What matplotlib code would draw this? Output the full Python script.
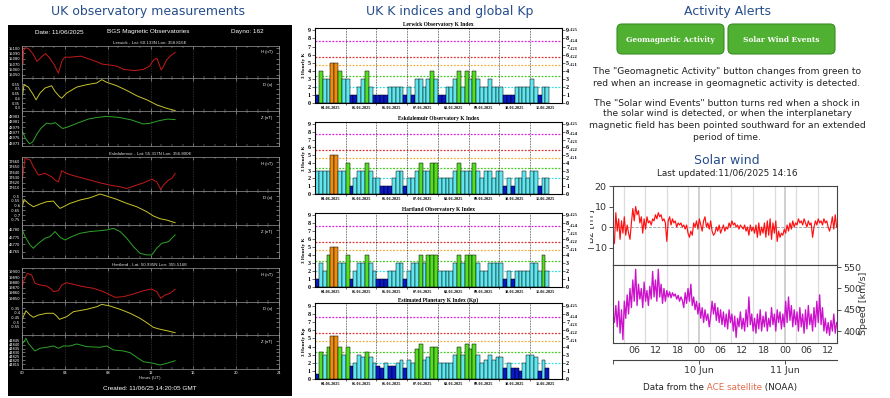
#!/usr/bin/env python3
"""Space weather dashboard: UK magnetometers, K indices, solar wind."""
import numpy as np
import matplotlib
matplotlib.use('Agg')
import matplotlib.pyplot as plt
from matplotlib.patches import Rectangle, FancyBboxPatch
from matplotlib.transforms import Bbox, TransformedBbox

W, H = 890, 398

# ---------------- magnetometer traces (hours UT, value) ----------------
LER_H_T = [0.0, 0.05, 0.1, 0.15, 0.3, 0.6, 1.0, 1.4, 1.85, 2.2, 2.6, 3.0, 3.4, 3.5, 3.75, 4.0, 4.5,
           5.0, 5.5, 6.2, 6.9, 7.5, 8.3, 8.9, 9.5, 10.5, 11.3, 11.9, 12.3, 12.6, 13.0, 13.2, 13.5, 13.9, 14.3]
LER_H = [15085, 15100, 15070, 15095, 15101, 15099, 15090, 15075, 15084, 15090, 15081, 15069, 15053, 15060,
         15077, 15083, 15083, 15084, 15085, 15080, 15075, 15070, 15068, 15066, 15060, 15058, 15060, 15066,
         15078, 15081, 15059, 15065, 15078, 15086, 15092]
LER_D_T = [0.06, 0.19, 0.59, 1.06, 1.31, 1.68, 2.15, 2.77, 3.08, 3.49, 3.71, 4.17, 5.11, 6.04, 6.98, 7.45,
           7.91, 8.85, 9.78, 10.72, 11.65, 12.58, 13.52, 14.3]
LER_D = [0.437, 0.543, 0.518, 0.437, 0.385, 0.455, 0.508, 0.532, 0.473, 0.42, 0.402, 0.455, 0.518, 0.543,
         0.561, 0.596, 0.568, 0.532, 0.483, 0.427, 0.385, 0.332, 0.296, 0.272]
LER_Z_T = [0.0, 0.3, 0.7, 1.0, 1.4, 1.8, 2.3, 2.7, 3.1, 3.5, 3.8, 4.3, 5.3, 6.2, 7.0, 7.9, 9.1, 10.2, 11.3,
           11.9, 12.9, 13.6, 14.3]
LER_Z = [48977.9, 48975.0, 48972.8, 48973.5, 48976.5, 48978.7, 48980.5, 48980.2, 48980.7, 48979.4, 48978.5,
         48979.1, 48980.7, 48982.0, 48982.6, 48983.0, 48982.6, 48981.7, 48980.2, 48980.4, 48981.5, 48982.0,
         48981.8]

ESK_H_T = [0.03, 0.28, 0.75, 1.06, 1.53, 2.15, 2.77, 3.08, 3.40, 3.71, 4.17, 4.64, 5.42, 6.36, 7.29, 8.22,
           9.16, 9.78, 10.41, 11.34, 12.12, 12.58, 12.96, 13.21, 13.67, 13.99, 14.30]
ESK_H = [17624.8, 17666.5, 17663.3, 17650.4, 17634.4, 17637.7, 17631.2, 17624.8, 17621.6, 17642.7, 17637.7,
         17634.4, 17630.0, 17624.8, 17619.6, 17615.2, 17612.0, 17608.8, 17613.3, 17619.6, 17626.7, 17621.6,
         17606.9, 17615.2, 17624.8, 17628.0, 17637.7]
ESK_D_T = [0.03, 0.19, 0.59, 1.06, 1.68, 2.31, 2.93, 3.24, 3.55, 3.86, 4.49, 5.42, 6.36, 7.29, 7.91, 8.85,
           9.78, 10.72, 11.65, 12.27, 12.90, 13.52, 14.30]
ESK_D = [-0.613, -0.535, -0.577, -0.613, -0.584, -0.56, -0.553, -0.595, -0.63, -0.613, -0.577, -0.542,
         -0.518, -0.479, -0.5, -0.535, -0.577, -0.613, -0.665, -0.71, -0.739, -0.753, -0.781]
ESK_Z_T = [0.03, 0.28, 0.75, 1.06, 1.53, 2.15, 2.62, 3.08, 3.55, 4.02, 4.64, 5.42, 6.36, 7.29, 7.91, 8.54,
           9.16, 9.78, 10.41, 11.03, 11.65, 12.12, 12.58, 13.05, 13.67, 14.30]
ESK_Z = [46780, 46775.4, 46769.7, 46767.4, 46770.8, 46774.3, 46775.4, 46778.9, 46775, 46773.1, 46775.4,
         46777.7, 46778.9, 46779.5, 46780, 46781.1, 46778.9, 46774.3, 46768.5, 46763.9, 46762.8, 46762.8,
         46767.4, 46770.8, 46771.9, 46776.6]

HAR_H_T = [0.0, 0.19, 0.50, 0.90, 1.21, 1.68, 2.31, 2.77, 2.93, 3.40, 3.71, 4.17, 4.80, 5.73, 6.67, 7.60,
           8.69, 9.47, 10.41, 11.34, 12.12, 12.58, 12.96, 13.36, 13.83, 14.30]
HAR_H = [19868.7, 19884.3, 19897.0, 19893.8, 19878.1, 19874.9, 19873.0, 19866.8, 19862.3, 19864.2, 19874.9,
         19879.2, 19876.2, 19871.7, 19868.7, 19862.3, 19851.7, 19852.8, 19857.9, 19864.2, 19867.4, 19862.3,
         19849.8, 19856.0, 19859.2, 19866.8]
HAR_D_T = [0.0, 0.19, 0.37, 0.75, 1.06, 1.53, 2.31, 2.93, 3.24, 3.49, 4.17, 4.80, 6.04, 6.98, 7.45, 8.22,
           9.16, 10.09, 11.03, 11.65, 12.27, 12.90, 13.52, 14.30]
HAR_D = [-0.477, -0.423, -0.376, -0.423, -0.448, -0.423, -0.404, -0.404, -0.434, -0.47, -0.441, -0.387,
         -0.361, -0.333, -0.307, -0.325, -0.361, -0.404, -0.459, -0.506, -0.557, -0.578, -0.593, -0.615]
HAR_Z_T = [0.0, 0.19, 0.37, 0.59, 0.90, 1.21, 1.68, 2.31, 2.93, 3.40, 3.86, 4.49, 5.11, 6.04, 7.29, 7.91,
           8.54, 9.47, 10.09, 10.72, 11.34, 12.27, 12.90, 13.52, 14.30]
HAR_Z = [44841.1, 44844.1, 44848.5, 44842.0, 44836.8, 44832.0, 44835.5, 44836.8, 44838.5, 44835.5, 44838.5,
         44838.5, 44841.1, 44837.6, 44836.8, 44838.5, 44833.3, 44832.0, 44829.8, 44823.7, 44818.0, 44815.9,
         44813.7, 44815.9, 44819.3]

# ---------------- 3-hourly K indices, 04-06-2025 .. 11-06-2025 ----------------
DATES = ['04-06-2025', '05-06-2025', '06-06-2025', '07-06-2025',
         '08-06-2025', '09-06-2025', '10-06-2025', '11-06-2025']
LER_K = [1, 4, 3, 3, 5, 5, 4, 3,  3, 1, 1, 2, 3, 4, 2, 1,  1, 1, 1, 2, 2, 2, 2, 1,  2, 1, 3, 3, 2, 3, 4, 3,
         1, 1, 2, 2, 3, 4, 2, 4,  3, 4, 3, 2, 2, 3, 2, 2,  2, 1, 1, 1, 2, 2, 2, 2,  3, 2, 1, 2, 2]
ESK_K = [3, 3, 3, 3, 5, 5, 3, 3,  4, 1, 2, 3, 3, 4, 3, 2,  2, 1, 1, 1, 2, 3, 3, 1,  2, 2, 3, 4, 3, 3, 4, 4,
         2, 2, 2, 2, 3, 4, 3, 3,  3, 4, 3, 2, 3, 3, 2, 3,  3, 1, 2, 1, 2, 2, 3, 2,  3, 3, 1, 2, 2]
HAR_K = [1, 3, 2, 4, 5, 5, 3, 3,  4, 1, 2, 3, 3, 4, 3, 2,  1, 1, 1, 2, 2, 3, 3, 1,  2, 3, 3, 4, 3, 4, 4, 4,
         2, 2, 2, 2, 3, 4, 3, 4,  4, 4, 3, 2, 2, 3, 3, 3,  3, 1, 2, 1, 2, 2, 2, 2,  3, 3, 2, 4, 2]
KP = [0.67, 3.33, 3, 4, 5.33, 5.33, 4, 3,  4, 1.67, 2, 3, 2.67, 3.33, 2.67, 2,
      1.67, 1.33, 2, 1.67, 1.67, 2, 2.33, 1.33,  2.33, 2, 3.67, 4.33, 2.33, 2.67, 4, 4,
      2, 2, 2, 2, 3, 4, 3, 4.33,  3.67, 4.33, 3, 2, 2.33, 3, 2.33, 2.67,
      2.67, 1.33, 2, 1.33, 1.33, 1, 2, 3,  3, 2.67, 1, 2.33, 1.33]
K_LEVELS = [2.0, 3.33, 4.67, 5.67, 7.67]
G_LEVELS = [4.67, 5.67, 6.67, 7.67, 9.0]
G_NAMES = ['G1', 'G2', 'G3', 'G4', 'G5']

# ---------------- ACE solar wind, hours from 09 Jun 00 UT ----------------
SW_END = 62.3
BZ = [-5, -8, 7, -2, 4, -6, 3, -3, 5, -4,
      1, -3, -6, 2, 9, 3, 10, 6, 8, 2,
      5, -3, 4, -1, 5, 2, 3, 1, 4, 3,
      6, 4, 7, 5, 6, 3, 4, 2, -7, 3,
      5, 1, 4, 2, 3, 0, 2, 1, 2, 0,
      1, -1, 1, -3, -5, -2, -4, 2, 0, 3,
      -1, 4, 1, -2, 3, 5, 0, 2, -1, 3,
      -2, -4, -3, 0, -2, 1, -3, -1, 1, -2,
      0, -1, 2, 0, 3, 1, 2, 0, 1, -1,
      1, 0, -1, 1, -2, 0, -4, 1, -2, 0,
      -3, 1, -5, 2, -4, 0, -3, 2, -5, 3,
      -4, 4, -6, 2, -3, 3, -7, -2, -5, -3,
      -4, -1, -3, 1, -2, 2, -1, 3, 0, 2,
      1, 4, 2, 3, 1, 4, 2, 0, 3, 1,
      2, -5, 0, 3, 1, 4, 2, 3, 1, 4,
      2, 3, 0, -2, 1, 5, -1, 6, 0]
SPEED = [440, 420, 460, 410, 470, 395, 450, 380, 470, 430,
         485, 440, 500, 455, 520, 470, 545, 460, 510, 475,
         500, 455, 515, 470, 495, 460, 505, 475, 540, 480,
         520, 470, 545, 480, 510, 465, 500, 470, 495, 480,
         492, 478, 490, 482, 487, 475, 484, 470, 480, 472,
         455, 490, 465, 500, 470, 510, 460, 480, 450, 470,
         440, 465, 430, 455, 420, 450, 425, 440, 410, 435,
         470, 440, 465, 425, 455, 420, 450, 415, 445, 410,
         440, 405, 450, 420, 440, 400, 435, 385, 430, 410,
         445, 405, 430, 400, 450, 410, 480, 415, 440, 400,
         430, 395, 440, 405, 450, 400, 435, 410, 445, 400,
         430, 410, 455, 415, 440, 400, 450, 420, 445, 405,
         440, 410, 470, 420, 480, 425, 460, 410, 450, 415,
         445, 400, 455, 410, 440, 395, 450, 405, 460, 415,
         440, 400, 455, 410, 470, 420, 485, 415, 455, 400,
         430, 395, 420, 390, 425, 400, 440, 395, 420]
SW_TICKS = [6, 12, 18, 24, 30, 36, 42, 48, 54, 60]
SW_TICKLABELS = ['06', '12', '18', '00', '06', '12', '18', '00', '06', '12']
SW_GRID = [3, 9, 15, 21, 27, 33, 39, 45, 51, 57]

TITLE_C = '#264d8c'
fig = plt.figure(figsize=(W / 100, H / 100), dpi=100)
fig.patch.set_facecolor('white')

def px_rect(x0, y0, x1, y1):
    return [x0 / W, 1 - y1 / H, (x1 - x0) / W, (y1 - y0) / H]

# pixel-space overlay for texts / boxes
bg = fig.add_axes([0, 0, 1, 1], zorder=-1)
bg.set_xlim(0, W); bg.set_ylim(H, 0); bg.axis('off')

# ================= panel 1: magnetometers =================
bg.text(148, 12, 'UK observatory measurements', ha='center', va='center', fontsize=9, color=TITLE_C)
bg.add_patch(Rectangle((8, 25), 284, 371, fc='black', ec='none'))
SANS = 'Liberation Sans'
bg.text(59, 32, 'Date: 11/06/2025', ha='center', va='center', fontsize=4.6, color='white', family=SANS)
bg.text(148, 32, 'BGS Magnetic Observatories', ha='center', va='center', fontsize=4.6, color='white', family=SANS)
bg.text(247, 32, 'Dayno: 162', ha='center', va='center', fontsize=4.6, color='white', family=SANS)
bg.text(150, 378, 'Hours (UT)', ha='center', va='center', fontsize=3.2, color='#dddddd', family=SANS)
bg.text(150, 388, 'Created: 11/06/25 14:20:05 GMT', ha='center', va='center', fontsize=4.6,
        color='white', family=SANS)

MAG_COL = ['#c41a1a', '#c9c42a', '#2ea42a']
MAG_LAB = ['H (nT)', 'D (o)', 'Z (nT)']
observatories = [
    ('Lerwick - Lat: 60.133N Lon: 358.816E', 43, [46, 78, 111, 146],
     [(LER_H_T, LER_H), (LER_D_T, LER_D), (LER_Z_T, LER_Z)],
     [(15044, 15104), (0.268, 0.613), (48972, 48985)],
     [np.arange(15050, 15101, 10), np.arange(0.3, 0.56, 0.05), np.arange(48973, 48985, 2)]),
    ('Eskdalemuir - Lat: 55.317N Lon: 356.800E', 154, [157, 191, 225, 258],
     [(ESK_H_T, ESK_H), (ESK_D_T, ESK_D), (ESK_Z_T, ESK_Z)],
     [(17604, 17669), (-0.805, -0.447), (46760.7, 46783.4)],
     [np.arange(17610, 17661, 10), np.arange(-0.75, -0.49, 0.05), np.arange(46765, 46781, 5)]),
    ('Hartland - Lat: 50.995N Lon: 355.516E', 265, [268, 302, 335, 369],
     [(HAR_H_T, HAR_H), (HAR_D_T, HAR_D), (HAR_Z_T, HAR_Z)],
     [(19842.8, 19907), (-0.64, -0.2815), (44808.5, 44852.8)],
     [np.arange(19850, 19901, 10), np.arange(-0.55, -0.34, 0.05), np.arange(44815, 44846, 5)]),
]
for oi, (name, ty, edges, traces, ylims, yticks) in enumerate(observatories):
    bg.text(150, ty, name, ha='center', va='center', fontsize=3.2, color='#dddddd', family=SANS)
    for k in range(3):
        ax = fig.add_axes(px_rect(22, edges[k], 279, edges[k + 1]))
        ax.set_facecolor('black')
        t, v = traces[k]
        ax.plot(t, v, color=MAG_COL[k], lw=0.7)
        ax.set_xlim(0, 24)
        ax.set_ylim(*ylims[k])
        ax.set_xticks(range(0, 25, 4))
        ax.set_xticks(range(0, 25), minor=True)
        ax.set_yticks(yticks[k])
        ax.set_yticklabels(['%g' % round(y, 2) for y in yticks[k]])
        ax.tick_params(which='both', direction='in', colors='#bbbbbb', labelcolor='white',
                       labelsize=2.6, top=True, right=True, pad=1.2)
        ax.tick_params(which='major', length=2.5, width=0.4)
        ax.tick_params(which='minor', length=1.2, width=0.3)
        ax.grid(axis='x', color='#777777', ls=(0, (1, 2)), lw=0.4)
        for s in ax.spines.values():
            s.set_color('#999999'); s.set_linewidth(0.5)
        if oi == 2 and k == 2:
            ax.set_xticklabels(['%02d' % h for h in range(0, 25, 4)])
        else:
            ax.set_xticklabels([])
        ax.text(0.975, 0.86, MAG_LAB[k], transform=ax.transAxes, ha='right', va='top',
                color='white', fontsize=3, family=SANS)

# ================= panel 2: K indices =================
bg.text(450, 12, 'UK K indices and global Kp', ha='center', va='center', fontsize=9, color=TITLE_C)
SERIF = 'Liberation Serif'

def k_colour(k):
    if k < 1.9:
        return '#0a18c8'
    if k < 3.3:
        return '#5fe6ee'
    if k < 4.6:
        return '#55dd22'
    if k < 5.6:
        return '#ee8c10'
    return '#e02020'

LEVEL_COL = ['#33e0e8', '#44cc22', '#f0b040', '#dd3333', '#dd22dd']
k_charts = [
    ('Lerwick Observatory K Index', LER_K, '3 Hourly K', 28, 103),
    ('Eskdalemuir Observatory K Index', ESK_K, '3 Hourly K', 121.7, 194),
    ('Hartland Observatory K Index', HAR_K, '3 Hourly K', 212.6, 287.3),
    ('Estimated Planetary K Index (Kp)', KP, '3 Hourly Kp', 303.3, 379.3),
]
for title, vals, ylab, y0, y1 in k_charts:
    ax = fig.add_axes(px_rect(315, y0, 562, y1))
    for lvl, c in zip(K_LEVELS, LEVEL_COL):
        ax.axhline(lvl, color=c, ls=(0, (1.5, 1.2)), lw=0.9, zorder=1)
    for d in range(1, 8):
        ax.axvline(d * 8, color='black', ls=(0, (1, 1.3)), lw=0.5, zorder=1)
    ax.bar(np.arange(len(vals)) + 0.5, vals, width=1.0, color=[k_colour(k) for k in vals],
           edgecolor='black', lw=0.35, zorder=2)
    ax.set_xlim(0, 64.3)
    ax.set_ylim(0, 9.3)
    ax.set_yticks(range(10))
    ax.set_xticks(np.arange(8) * 8 + 4)
    ax.set_xticklabels(DATES, fontsize=3.1, fontweight='bold', family=SERIF)
    ax.set_xticks(np.arange(1, 8) * 8, minor=True)
    ax.tick_params(axis='x', which='major', length=0, pad=2)
    ax.tick_params(axis='x', which='minor', length=1.5, width=0.4)
    ax.tick_params(axis='y', length=2, width=0.4, labelsize=4.3, pad=1)
    for lab in ax.get_yticklabels():
        lab.set_fontweight('bold'); lab.set_family(SERIF)
    ax.set_title(title, fontsize=4, fontweight='bold', family=SERIF, pad=1.5)
    ax.set_ylabel(ylab, fontsize=3.8, fontweight='bold', family=SERIF, labelpad=1)
    for s in ax.spines.values():
        s.set_linewidth(0.6)
    ax2 = ax.twinx()
    ax2.set_ylim(0, 9.3)
    ax2.set_yticks(range(10))
    ax2.tick_params(axis='y', length=2, width=0.4, labelsize=4.3, pad=1)
    for lab in ax2.get_yticklabels():
        lab.set_fontweight('bold'); lab.set_family(SERIF)
    for lvl, g in zip(G_LEVELS, G_NAMES):
        ax.text(1.026, lvl, '\u2013' + g, transform=ax.get_yaxis_transform(), ha='left', va='center',
                fontsize=3.6, fontweight='bold', family=SERIF, clip_on=False)

# ================= panel 3: alerts + solar wind =================
bg.text(727, 12, 'Activity Alerts', ha='center', va='center', fontsize=9, color=TITLE_C)
for x0, label in [(617, 'Geomagnetic Activity'), (728, 'Solar Wind Events')]:
    bg.add_patch(FancyBboxPatch((x0, 24), 107, 30, boxstyle='round,pad=0,rounding_size=5',
                                fc='#4fb032', ec='#3b8c24', lw=0.8))
    bg.text(x0 + 53.5, 39.5, label, ha='center', va='center', fontsize=5.4, color='white',
            fontweight='bold', family='DejaVu Serif')
para = [
    (72, 'The "Geomagnetic Activity" button changes from green to'),
    (83, 'red when an increase in geomagnetic activity is detected.'),
    (103, 'The "Solar wind Events" button turns red when a shock in'),
    (114, 'the solar wind is detected, or when the interplanetary'),
    (126, 'magnetic field has been pointed southward for an extended'),
    (137, 'period of time.'),
]
for y, line in para:
    bg.text(727, y, line, ha='center', va='center', fontsize=6.55, color='#222222')

bg.text(727, 160, 'Solar wind', ha='center', va='center', fontsize=9, color=TITLE_C)
bg.text(727, 174, 'Last updated:11/06/2025 14:16', ha='center', va='center', fontsize=6.4, color='#222222')

t_sw = np.arange(len(BZ)) * (SW_END / (len(BZ) - 1))
ax_bz = fig.add_axes(px_rect(613, 186, 837, 265))
ax_sp = fig.add_axes(px_rect(613, 265, 837, 343))
for ax in (ax_bz, ax_sp):
    for h in SW_GRID:
        ax.axvline(h, color='#dcdcdc', lw=0.9, zorder=0)
    for h in (24, 48):
        ax.axvline(h, color='#c4c4c4', lw=1.1, zorder=0)
    ax.set_xlim(0, 62.4)
    for s in ax.spines.values():
        s.set_color('#444444'); s.set_linewidth(0.8)
ax_bz.axhline(0, color='#999999', ls='--', lw=0.6, zorder=1)
ax_bz.plot(t_sw, BZ, color='#ff1010', lw=0.85, zorder=2)
ax_bz.set_ylim(-18.5, 20)
ax_bz.set_yticks([-10, 0, 10, 20])
ax_bz.set_xticks([])
ax_bz.tick_params(axis='y', labelsize=6.8, length=3, width=0.6, pad=1.5, colors='#333333')

ax_sp.plot(t_sw, SPEED, color='#cc11cc', lw=0.95, zorder=2)
ax_sp.set_ylim(372, 555)
ax_sp.yaxis.tick_right()
ax_sp.set_yticks([400, 450, 500, 550])
ax_sp.set_xticks(SW_TICKS)
ax_sp.set_xticklabels(SW_TICKLABELS)
ax_sp.tick_params(axis='y', labelsize=6.8, length=3, width=0.6, pad=1.5, colors='#333333')
ax_sp.tick_params(axis='x', labelsize=6.8, length=0, pad=2.5, colors='#333333')
sec = ax_sp.secondary_xaxis(-0.22)
sec.set_xticks([0, 24, 48])
sec.set_xticklabels(['', '10 Jun', '11 Jun'])
sec.tick_params(labelsize=6.8, length=3, width=0.6, pad=1.5, colors='#333333')
sec.spines['bottom'].set_color('#444444')
sec.spines['bottom'].set_linewidth(0.8)

# axis titles: Bz label is cut at the column edge, speed label sits over its tick labels
bz_lab = bg.text(590.5, 226, 'Bz [nT]', rotation=90, ha='center', va='center', fontsize=6.8, color='#333333')
bz_lab.set_clip_box(TransformedBbox(Bbox([[590 / W, 0], [1, 1]]), fig.transFigure))
bz_lab.set_clip_on(True)
bg.text(863, 303, 'Speed [km/s]', rotation=90, ha='center', va='center', fontsize=6.8, color='#333333')

t1 = bg.text(643, 392, 'Data from the', ha='left', va='bottom', fontsize=6.3, color='#222222')
t2 = bg.annotate(' ACE satellite', xy=(1, 0), xycoords=t1, ha='left', va='bottom',
                 fontsize=6.3, color='#e06a4a')
bg.annotate(' (NOAA)', xy=(1, 0), xycoords=t2, ha='left', va='bottom', fontsize=6.3, color='#222222')

fig.savefig('out.png', dpi=100)
